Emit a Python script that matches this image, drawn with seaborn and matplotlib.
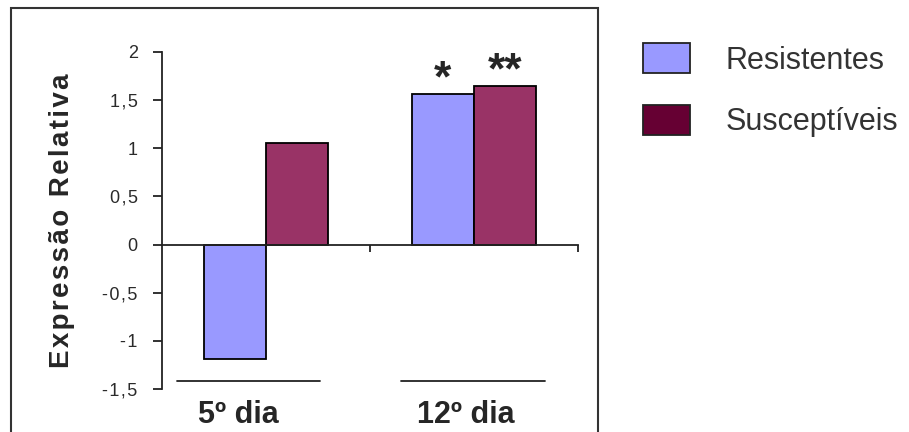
import numpy as np
import pandas as pd
import matplotlib
matplotlib.use('Agg')
import matplotlib.pyplot as plt
from matplotlib.patches import Rectangle, Patch
import seaborn as sns

# chart data
days = ['5º dia', '12º dia']
groups = ['Resistentes', 'Susceptíveis']
resistentes = [-1.19, 1.56]
susceptiveis = [1.05, 1.65]
sig_resistentes = ['', '*']
sig_susceptiveis = ['', '**']
ytick_values = [-1.5, -1, -0.5, 0, 0.5, 1, 1.5, 2]
ytick_labels = ['-1,5', '-1', '-0,5', '0', '0,5', '1', '1,5', '2']

bar_colors = ['#9999FF', '#993366']
legend_colors = ['#9999FF', '#660033']
line_color = '#222222'

# small per-category nudges of the labels / rules under the plot
label_shift = [-0.135, -0.04]
rule_spans = [(-0.43, 0.26), (-0.35, 0.34)]

sns.set_style('white')
plt.rcParams['font.family'] = ['Liberation Sans', 'DejaVu Sans']

df = pd.DataFrame({
    'dia': days * 2,
    'grupo': [groups[0]] * len(days) + [groups[1]] * len(days),
    'valor': resistentes + susceptiveis,
})

fig = plt.figure(figsize=(9.09, 4.32), dpi=100)
ax = fig.add_axes([162 / 909, 1 - 389 / 432, 416 / 909, 337 / 432])

sns.barplot(data=df, x='dia', y='valor', hue='grupo', palette=bar_colors, saturation=1,
            width=0.6, edgecolor='black', linewidth=1.3, ax=ax, legend=False)

# significance marks above the bars
for container, marks in zip(ax.containers, [sig_resistentes, sig_susceptiveis]):
    for bar, m in zip(container, marks):
        if not m:
            continue
        ax.annotate(m, xy=(bar.get_x() + bar.get_width() / 2, bar.get_height()),
                    xytext=(0, 2), textcoords='offset points',
                    ha='center', va='baseline', fontsize=32, fontweight='bold')

ax.set_xlim(-0.5, len(days) - 0.5)
ax.set_ylim(ytick_values[0], ytick_values[-1])
ax.set_yticks(ytick_values)
ax.set_yticklabels(['\u200a'.join(t) for t in ytick_labels])
ax.set_xticks([i + 0.5 for i in range(len(days))])
ax.set_xticklabels([])
ax.set_xlabel('')

for s in ['top', 'right']:
    ax.spines[s].set_visible(False)
ax.spines['bottom'].set_position(('data', 0))
for s in ['left', 'bottom']:
    ax.spines[s].set_color(line_color)
    ax.spines[s].set_linewidth(1.3)

ax.tick_params(axis='y', direction='out', length=6.5, width=1.3, color=line_color,
               pad=11, labelsize=13, labelcolor='#2a2a2a', left=True)
ax.tick_params(axis='x', direction='out', length=5, width=1.3, color=line_color, bottom=True)

ax.set_ylabel('\u200a'.join('Expressão Relativa'), fontsize=20, fontweight='bold')
ax.yaxis.set_label_coords(-0.21, 0.5)

# category labels under the plot, with a rule above each
for i, d in enumerate(days):
    x0, x1 = rule_spans[i]
    ax.plot([i + x0, i + x1], [-1.42, -1.42], color=line_color, lw=1.3, clip_on=False)
    ax.annotate(d, xy=(i + label_shift[i], ytick_values[0]), xytext=(0, -8),
                textcoords='offset points', ha='center', va='top',
                fontsize=22, fontweight='bold')

handles = [Patch(facecolor=c, edgecolor=line_color, linewidth=1.3) for c in legend_colors]
leg = fig.legend(handles, groups, loc='upper left', bbox_to_anchor=(643 / 909, 1 - 43 / 432),
                 frameon=False, fontsize=22, handlelength=1.55, handleheight=1.15,
                 handletextpad=1.15, labelspacing=0.95, borderpad=0, borderaxespad=0)
for t in leg.get_texts():
    t.set_color('#333333')

# outer frame of the chart area
fig.add_artist(Rectangle((11 / 909, -0.1), 587 / 909, 1 - 8 / 432 + 0.1,
                         transform=fig.transFigure, fill=False, lw=1.5, ec='#333333'))

fig.savefig('out.png', dpi=100)
